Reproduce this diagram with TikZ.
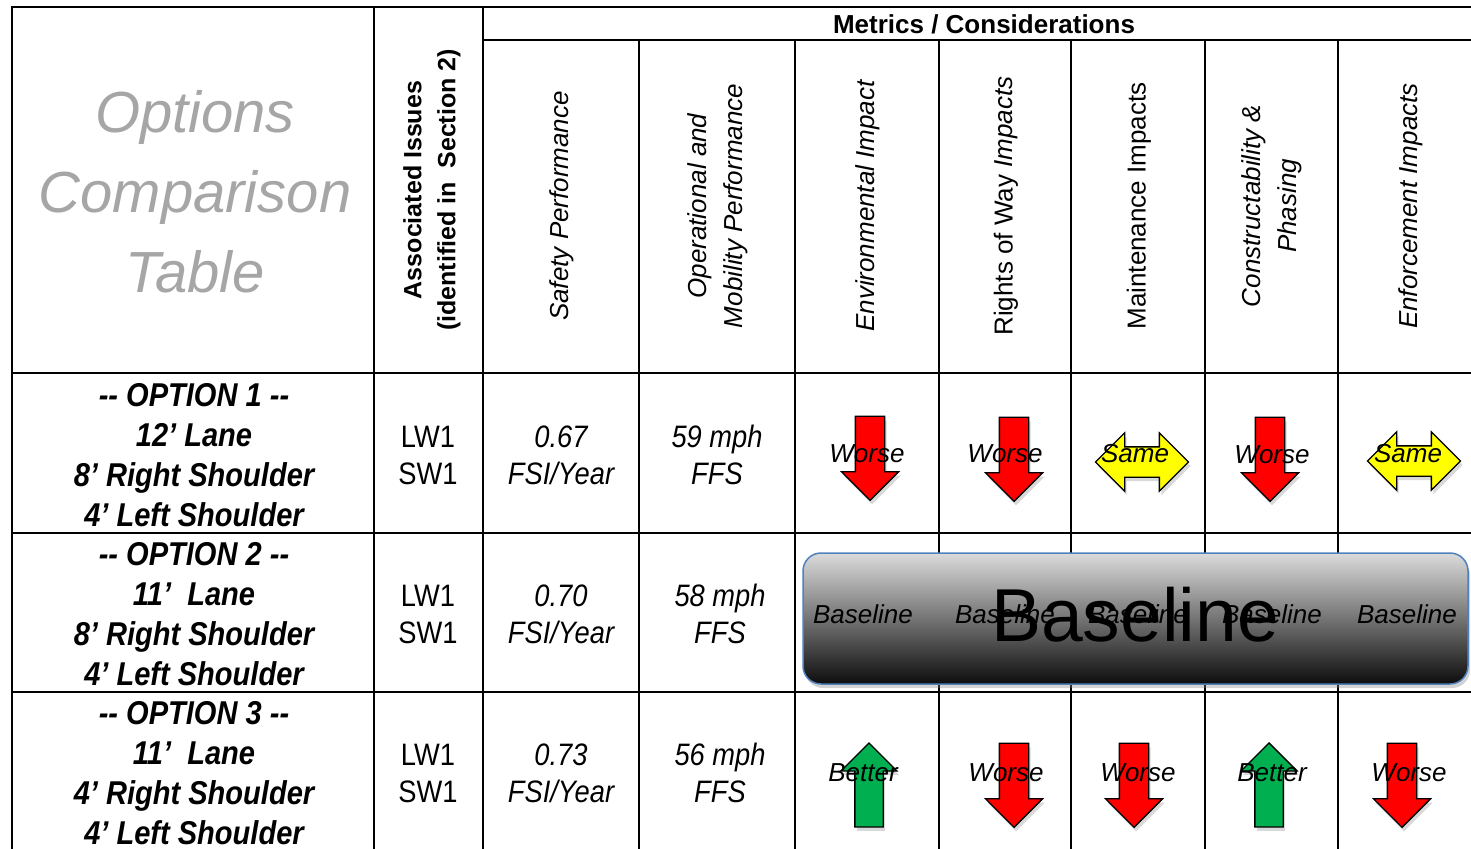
\documentclass[tikz,border=0pt]{standalone}
\usepackage{fontspec}
\setmainfont{Liberation Sans}
\newfontfamily\narrowfont[FakeStretch=0.88]{Liberation Sans}
\usetikzlibrary{shapes, arrows, positioning, shadows}

\definecolor{worse-red}{HTML}{FF0000}
\definecolor{better-green}{HTML}{00B050}
\definecolor{same-yellow}{HTML}{FFFF00}
\definecolor{title-gray}{HTML}{A6A6A6}
\definecolor{banner-blue}{HTML}{4F81BD}

\newcommand{\shaft}[1]{\rule{0pt}{#1}}

\begin{document}
\begin{tikzpicture}[x=1pt, y=-1pt,
grid/.style={draw=black, line width=2.4pt, line cap=rect},
title/.style={align=center, text=title-gray, font=\fontsize{58}{80}\selectfont\itshape},
head/.style={rotate=90, align=center, font=\fontsize{26}{36}\selectfont},
head-bold/.style={rotate=90, align=center, font=\fontsize{25}{34}\selectfont\bfseries},
option/.style={align=center, font=\narrowfont\fontsize{33}{40}\selectfont\bfseries\itshape},
issue/.style={align=center, font=\narrowfont\fontsize{31}{37}\selectfont},
value/.style={align=center, font=\narrowfont\fontsize{31}{37}\selectfont\itshape},
verdict/.style={font=\fontsize{26}{31}\selectfont\itshape},
arrow-base/.style={draw=black, line width=1.3pt, inner sep=0pt,
  drop shadow={opacity=0.3, shadow xshift=2pt, shadow yshift=-4pt}},
arrow-down/.style={arrow-base, single arrow, fill=worse-red, rotate=-90,
  minimum height=84pt, minimum width=56pt,
  single arrow head extend=14pt, single arrow tip angle=90},
arrow-up/.style={arrow-down, fill=better-green, rotate=180},
arrow-same/.style={arrow-base, double arrow, fill=same-yellow,
  minimum height=93pt, minimum width=57pt,
  double arrow head extend=14pt, double arrow tip angle=90},
banner/.style={draw=banner-blue, line width=1.5pt, rounded corners=18pt,
  minimum width=665pt, minimum height=131pt,
  top color=black!14, middle color=black!38, bottom color=black!95,
  drop shadow={opacity=0.35, shadow xshift=2pt, shadow yshift=-4pt}}
]
\useasboundingbox (0,0) rectangle (1471,848);

% table grid
\draw[grid] (12,7) -- (1471,7);
\draw[grid] (483,40) -- (1471,40);
\foreach \y in {373,533,692} \draw[grid] (12,\y) -- (1471,\y);
\foreach \x in {12,374,483} \draw[grid] (\x,7) -- (\x,848);
\foreach \x in {639,795,939,1071,1205,1338} \draw[grid] (\x,40) -- (\x,848);

% header
\node[title] (title) at (195,192) {Options\\Comparison\\Table};
\node[head-bold] (issues) at (432,190) {Associated Issues\\(identified in\ \ Section 2)};
\node[font=\fontsize{26}{31}\selectfont\bfseries] (metrics) at (984,24) {Metrics / Considerations};
\node[head] (safety) at (562,206) {\itshape Safety Performance};
\node[head] (mobility) at (718,206) {\itshape Operational and\\\itshape Mobility Performance};
\node[head] (environment) at (868,206) {\itshape Environmental Impact};
\node[head] (row) at (1006,206) {Rights of Way \textit{Impacts}};
\node[head] (maintenance) at (1139,206) {Maintenance Impacts};
\node[head] (construct) at (1272,206) {\itshape Constructability \&\\\itshape Phasing};
\node[head] (enforce) at (1411,206) {\itshape Enforcement Impacts};

% option 1
\node[option] (opt-1) at (194,455) {-{}- OPTION 1 -{}-\\12’ Lane\\8’ Right Shoulder\\4’ Left Shoulder};
\node[issue] (iss-1) at (428,455) {LW1\\SW1};
\node[value] (fsi-1) at (561,455) {0.67\\FSI/Year};
\node[value] (ffs-1) at (717,455) {59 mph\\FFS};
\node[arrow-down] (env-1) at (870,451) {\shaft{28pt}};
\node[arrow-down] (way-1) at (1014,452) {\shaft{28pt}};
\node[arrow-same] (mnt-1) at (1142,462) {\shaft{29pt}};
\node[arrow-down] (cst-1) at (1270,452) {\shaft{28pt}};
\node[arrow-same] (enf-1) at (1414,461) {\shaft{29pt}};
\node[verdict] at (867,454) {Worse};
\node[verdict] at (1005,454) {Worse};
\node[verdict] at (1135,454) {Same};
\node[verdict] at (1272,455) {Worse};
\node[verdict] at (1408,454) {Same};

% option 2
\node[option] (opt-2) at (194,614) {-{}- OPTION 2 -{}-\\11’\ \ Lane\\8’ Right Shoulder\\4’ Left Shoulder};
\node[issue] (iss-2) at (428,614) {LW1\\SW1};
\node[value] (fsi-2) at (561,614) {0.70\\FSI/Year};
\node[value] (ffs-2) at (720,614) {58 mph\\FFS};
\node[banner] (baseline) at (1135.5,618.5) {};
\node[verdict] (base-env) at (863,614) {Baseline};
\node[verdict] (base-way) at (1005,614) {Baseline};
\node[verdict] (base-mnt) at (1138,614) {Baseline};
\node[verdict] (base-cst) at (1272,614) {Baseline};
\node[verdict] (base-enf) at (1407,614) {Baseline};
\node[font=\fontsize{75}{80}\selectfont] (base-big) at (1135,615) {Baseline};

% option 3
\node[option] (opt-3) at (194,773) {-{}- OPTION 3 -{}-\\11’\ \ Lane\\4’ Right Shoulder\\4’ Left Shoulder};
\node[issue] (iss-3) at (428,773) {LW1\\SW1};
\node[value] (fsi-3) at (561,773) {0.73\\FSI/Year};
\node[value] (ffs-3) at (720,773) {56 mph\\FFS};
\node[arrow-up] (env-3) at (869,792) {\shaft{27pt}};
\node[arrow-down] (way-3) at (1014,778) {\shaft{28pt}};
\node[arrow-down] (mnt-3) at (1134,778) {\shaft{28pt}};
\node[arrow-up] (cst-3) at (1269,792) {\shaft{27pt}};
\node[arrow-down] (enf-3) at (1402,778) {\shaft{28pt}};
\node[verdict] at (863,773) {Better};
\node[verdict] at (1006,773) {Worse};
\node[verdict] at (1138,773) {Worse};
\node[verdict] at (1272,773) {Better};
\node[verdict] at (1409,773) {Worse};

\end{tikzpicture}
\end{document}
